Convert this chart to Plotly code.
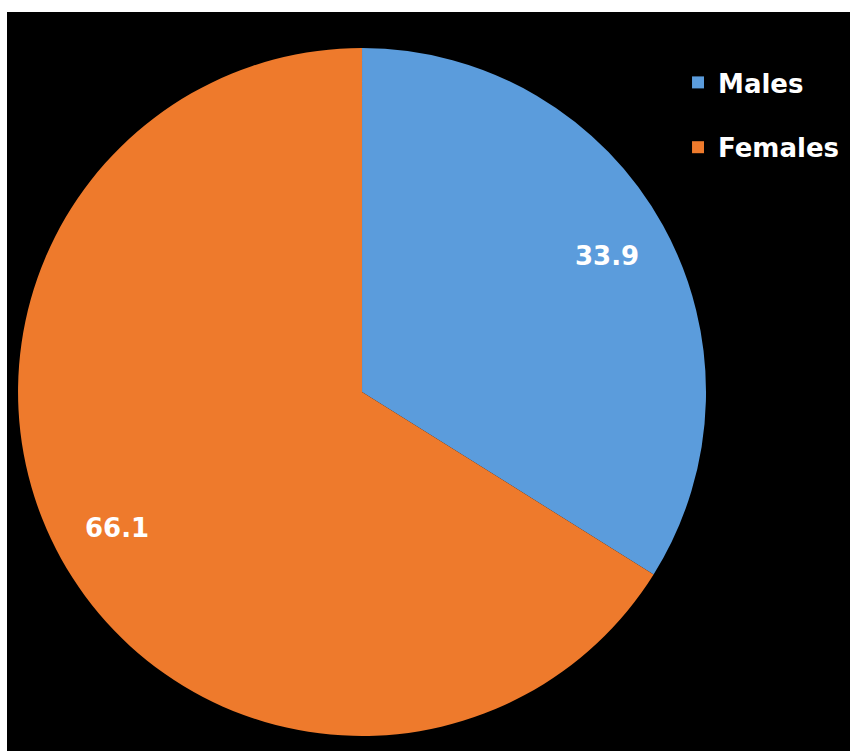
import math
import plotly.graph_objects as go

# data
labels = ["Males", "Females"]
values = [33.9, 66.1]
colors = ["#5b9cdc", "#ee7a2c"]

# pie placement inside the plot area
dom_x = [0.0131, 0.8292]
dom_y = [0.0203, 0.9513]

fig = go.Figure()

fig.add_trace(go.Pie(
    labels=labels, values=values, sort=False, direction="clockwise", rotation=0,
    marker=dict(colors=colors, line=dict(width=0)),
    textinfo="none", hoverinfo="label+value", showlegend=False,
    domain=dict(x=dom_x, y=dom_y),
))

# legend entries (separate traces so the gap between them can be set)
for i, name in enumerate(labels):
    fig.add_trace(go.Scatter(
        x=[None], y=[None], mode="markers", name=name, legendgroup=name,
        marker=dict(symbol="square", size=14, color=colors[i]),
    ))

# value labels placed at the middle angle of each slice
cx, cy = sum(dom_x) / 2, sum(dom_y) / 2
rx, ry = (dom_x[1] - dom_x[0]) / 2, (dom_y[1] - dom_y[0]) / 2
total = sum(values)
start = 0
for v in values:
    mid = (start + v / 2) / total * 2 * math.pi
    start += v
    fig.add_annotation(
        x=cx + 0.815 * rx * math.sin(mid), y=cy + 0.815 * ry * math.cos(mid),
        xref="paper", yref="paper", xanchor="center", yanchor="middle",
        text=f"{v:.1f}", showarrow=False,
        font=dict(family="DejaVu Sans", size=26, color="white", weight="bold"),
    )

# black panel; the margins stay white like the border of the original
fig.add_shape(type="rect", xref="paper", yref="paper", x0=0, x1=1, y0=0, y1=1,
              fillcolor="black", line=dict(width=0), layer="below")

fig.update_layout(
    width=850, height=751,
    margin=dict(l=7, r=0, t=12, b=0),
    paper_bgcolor="white", plot_bgcolor="black",
    xaxis=dict(visible=False), yaxis=dict(visible=False),
    legend=dict(x=0.796, y=0.9364, xanchor="left", yanchor="top",
                bgcolor="rgba(0,0,0,0)", tracegroupgap=28, itemsizing="constant",
                font=dict(family="DejaVu Sans", size=26, color="white", weight="bold")),
)

fig.write_html("out.html", config={"displayModeBar": False},
               post_script="document.body.style.margin='0';")
